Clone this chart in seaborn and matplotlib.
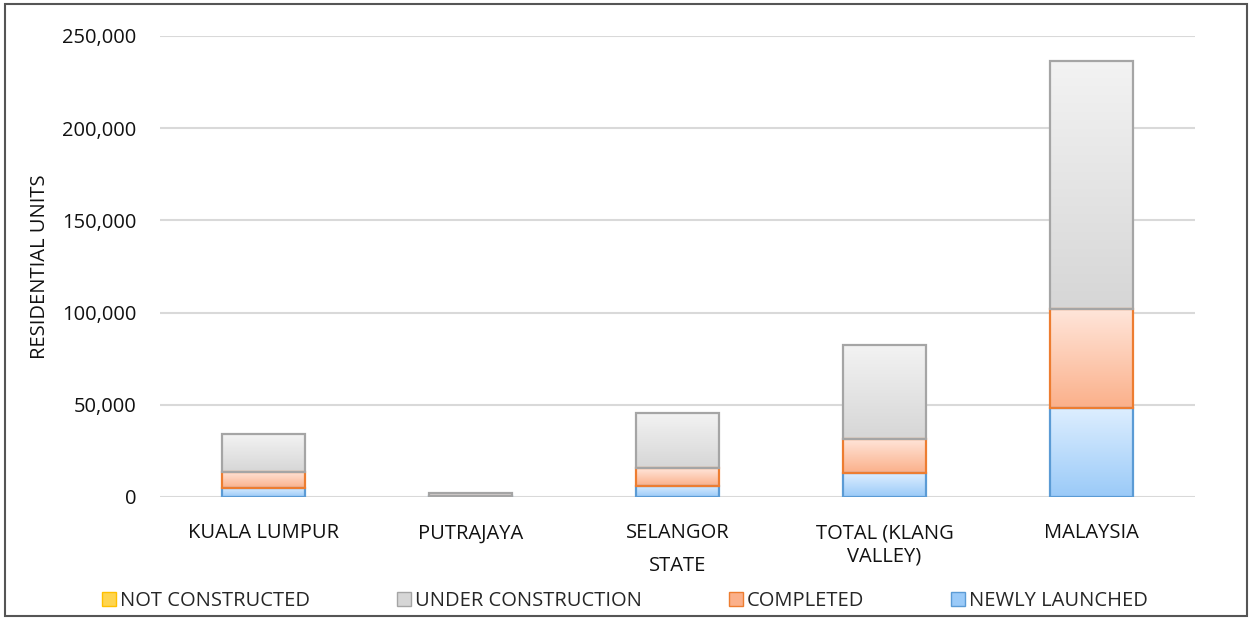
import numpy as np
import matplotlib
matplotlib.use("Agg")
import matplotlib.pyplot as plt
import seaborn as sns
from matplotlib.colors import LinearSegmentedColormap
from matplotlib.patches import Patch, Rectangle
from matplotlib.ticker import FuncFormatter

categories = ["KUALA LUMPUR", "PUTRAJAYA", "SELANGOR", "TOTAL (KLANG\nVALLEY)", "MALAYSIA"]
newly_launched = [5000, 300, 6200, 12800, 48100]
completed = [8800, 400, 9400, 18500, 53700]
under_construction = [20400, 1500, 30100, 51100, 134600]
not_constructed = [0, 0, 0, 0, 0]

series = [
    ("NEWLY LAUNCHED", newly_launched, "#DDEEFF", "#9ACAF8", "#5B9BD5"),
    ("COMPLETED", completed, "#FFE6DB", "#FBB08A", "#ED7D31"),
    ("UNDER CONSTRUCTION", under_construction, "#F3F3F3", "#D6D6D6", "#A5A5A5"),
    ("NOT CONSTRUCTED", not_constructed, "#FFF2C0", "#FFD54F", "#FFC000"),
]

sns.set_theme(style="white")
plt.rcParams['font.family'] = ['Open Sans', 'DejaVu Sans']
FS = 14.5

fig = plt.figure(figsize=(12.51, 6.18), dpi=100)
ax = fig.add_axes([160/1251, 1-497/618, (1195-160)/1251, (497-36)/618])

bottoms = np.zeros(len(categories))
gradients = []
for name, vals, ctop, cbot, edge in series:
    vals = np.array(vals, dtype=float)
    tops = bottoms + vals
    n_before = len(ax.patches)
    sns.barplot(x=categories, y=tops, ax=ax, color=cbot, width=0.4,
                edgecolor=edge, linewidth=1.6, saturation=1, zorder=3)
    new_patches = ax.patches[n_before:]
    for p, b, v in zip(new_patches, bottoms, vals):
        p.set_y(b)
        p.set_height(v)
        if v <= 0:
            p.set_visible(False)
        else:
            p.set_facecolor("none")
            gradients.append((p, ctop, cbot))
    bottoms = tops

grad = np.linspace(0, 1, 256).reshape(-1, 1)
for p, ctop, cbot in gradients:
    cmap = LinearSegmentedColormap.from_list("g", [ctop, cbot])
    x0, y0 = p.get_x(), p.get_y()
    im = ax.imshow(grad, extent=[x0, x0 + p.get_width(), y0, y0 + p.get_height()],
                   origin="upper", aspect="auto", cmap=cmap, zorder=2.5,
                   interpolation="bilinear")
    im.set_clip_path(p)

ax.set_xlim(-0.5, len(categories) - 0.5)
ax.set_ylim(0, 250000)
ax.set_yticks(np.arange(0, 250001, 50000))
ax.yaxis.set_major_formatter(FuncFormatter(lambda v, _: f"{int(v):,}"))
ax.grid(axis="y", color="#D9D9D9", linewidth=1.5)
ax.set_axisbelow(True)
for s in ax.spines.values():
    s.set_visible(False)
ax.tick_params(axis="y", length=0, pad=17, labelsize=FS, labelcolor="#111111")
ax.tick_params(axis="x", length=0, pad=19, labelsize=FS, labelcolor="#111111")
ax.set_xlabel("STATE", fontsize=FS, color="#111111")
ax.xaxis.set_label_coords(0.5, (497 - 556) / 461)
ax.set_ylabel("RESIDENTIAL UNITS", fontsize=FS, labelpad=9, color="#111111")

handles = [Patch(facecolor=s[3], edgecolor=s[4], label=s[0]) for s in series[::-1]]
fig.legend(handles=handles, loc="center", bbox_to_anchor=(625/1251, 1-601/618), ncol=4,
           frameon=False, fontsize=FS, handlelength=0.7, handleheight=0.7,
           handletextpad=0.2, columnspacing=4.3, borderaxespad=0)

fig.patches.append(Rectangle((5/1251, 2/618), 1242/1251, 612/618, transform=fig.transFigure,
                             fill=False, edgecolor="#555555", linewidth=1.5))

fig.savefig("out.png", dpi=100)
